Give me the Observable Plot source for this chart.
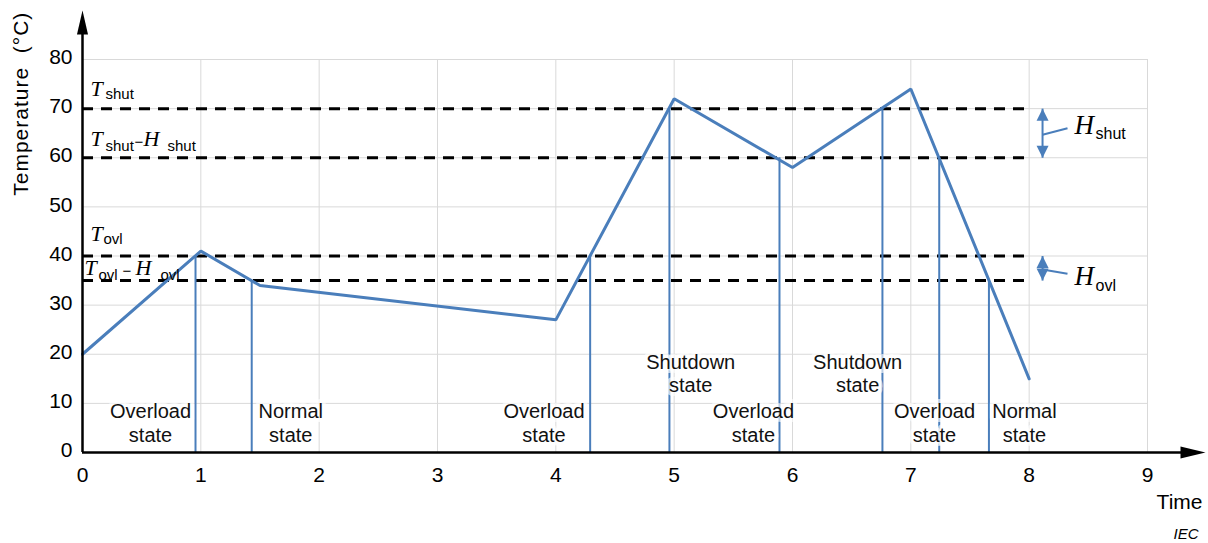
<!DOCTYPE html>
<html><head><meta charset="utf-8">
<script src="https://cdn.jsdelivr.net/npm/d3@7"></script>
<script src="https://cdn.jsdelivr.net/npm/@observablehq/plot@0.6"></script>
<style>body{margin:0;background:#fff}</style>
</head><body><div id="chart"></div>
<script>
// ---- data ----
const times = [0, 1, 1.5, 4, 5, 6, 7, 8];
const temps = [20, 41, 34, 27, 72, 58, 74, 15];
const thresholds = [70, 60, 40, 35];
const switchTimes = [0.955, 1.43, 4.29, 4.96, 5.89, 6.76, 7.24, 7.66];
const switchTemps = [40, 35, 40, 70, 60, 70, 60, 35];
const stateNames = ["Overload\nstate", "Normal\nstate", "Overload\nstate", "Shutdown\nstate",
                    "Overload\nstate", "Shutdown\nstate", "Overload\nstate", "Normal\nstate"];
const stateTimes = [0.575, 1.76, 3.9, 5.14, 5.67, 6.55, 7.2, 7.96];
const stateTemps = [6.1, 6.1, 6.1, 16.2, 6.1, 16.2, 6.1, 6.1];
const xTicks = [0, 1, 2, 3, 4, 5, 6, 7, 8, 9];
const yTicks = [0, 10, 20, 30, 40, 50, 60, 70, 80];
const hystX = 8.113;
const hystTop = [70, 40];
const hystBottom = [60, 35];
const hystLinkX2 = 8.324;
const hystLinkY1 = [64.7, 37.25];
const hystLinkY2 = [66.0, 36.4];
const dashEnd = 8.0;
const xAxisEnd = 9.49;
const yAxisEnd = 90;

// ---- helpers ----
const SANS = "Liberation Sans, Arial, sans-serif";
const SERIF = "Liberation Serif, 'Times New Roman', serif";
const BLUE = "#4a7ebb";
function head(lf, wf) {
  return {draw(ctx, size) {
    const r = Math.sqrt(size / Math.PI);
    ctx.moveTo(0, 0);
    ctx.lineTo(-r * wf, r * lf);
    ctx.lineTo(r * wf, r * lf);
    ctx.closePath();
  }};
}
function piece(str, x, y, dx, dy, opts) {
  return Plot.text([{s: str, x, y}], {x: "x", y: "y", text: "s", dx, dy,
    textAnchor: "start", lineAnchor: "bottom", fill: "black", ...opts});
}
const serifT = {fontFamily: SERIF, fontStyle: "italic", fontSize: 22};
const serifH = {fontFamily: SERIF, fontStyle: "italic", fontSize: 27};
const sub = {fontFamily: SANS, fontSize: 15};
const subH = {fontFamily: SANS, fontSize: 16};

const curve = times.map((t, i) => ({t, v: temps[i]}));
const switches = switchTimes.map((t, i) => ({t, v: switchTemps[i]}));
const states = stateNames.map((s, i) => ({s, t: stateTimes[i], v: stateTemps[i]}));
const hyst = hystTop.map((top, i) => ({top, bottom: hystBottom[i], y1: hystLinkY1[i], y2: hystLinkY2[i]}));

const chart = Plot.plot({
  width: 1208, height: 543,
  marginLeft: 82, marginRight: 61, marginTop: 59, marginBottom: 91,
  x: {domain: [0, 9]},
  y: {domain: [0, 80]},
  style: {fontFamily: SANS, fontSize: "21px", background: "white", overflow: "visible"},
  marks: [
    // grid
    Plot.ruleX(xTicks.slice(1), {y1: 0, y2: 80, stroke: "#d9d9d9", strokeWidth: 1}),
    Plot.ruleY(yTicks.slice(1), {x1: 0, x2: 9, stroke: "#d9d9d9", strokeWidth: 1}),
    // thresholds
    Plot.ruleY(thresholds, {x1: 0, x2: dashEnd, stroke: "black", strokeWidth: 3, strokeDasharray: "11,8"}),
    // switching verticals
    Plot.ruleX(switches, {x: "t", y1: 0, y2: "v", stroke: BLUE, strokeWidth: 2}),
    // temperature curve
    Plot.line(curve, {x: "t", y: "v", stroke: BLUE, strokeWidth: 3, strokeLinejoin: "miter"}),
    // state labels
    Plot.text(states, {x: "t", y: "v", text: "s", fontSize: 20, lineHeight: 1.17, lineAnchor: "middle",
      fill: "#111", stroke: "white", strokeWidth: 8, strokeOpacity: 0.65}),
    // threshold labels
    piece("T", 0, thresholds[0], 8, -13, serifT),
    piece("shut", 0, thresholds[0], 23, -10, sub),
    piece("T", 0, thresholds[1], 8, -12, serifT),
    piece("shut", 0, thresholds[1], 23, -7, sub),
    piece("−", 0, thresholds[1], 52, -11, sub),
    piece("H", 0, thresholds[1], 61, -12, serifT),
    piece("shut", 0, thresholds[1], 85, -7, sub),
    piece("T", 0, thresholds[2], 8, -15, serifT),
    piece("ovl", 0, thresholds[2], 21, -12, sub),
    piece("T", 0, thresholds[3], 2, -6, serifT),
    piece("ovl", 0, thresholds[3], 16, -1, sub),
    piece("−", 0, thresholds[3], 40, -5, sub),
    piece("H", 0, thresholds[3], 53, -6, serifT),
    piece("ovl", 0, thresholds[3], 78, -1, sub),
    // hysteresis arrows
    Plot.link(hyst, {x1: hystX, x2: hystX, y1: "top", y2: "bottom", stroke: BLUE, strokeWidth: 2}),
    Plot.dot(hyst, {x: hystX, y: "top", symbol: head(2, 1), r: 6, fill: BLUE, stroke: "none"}),
    Plot.dot(hyst, {x: hystX, y: "bottom", symbol: head(2, 1), r: 6, rotate: 180, fill: BLUE, stroke: "none"}),
    Plot.link(hyst, {x1: hystX, x2: hystLinkX2, y1: "y1", y2: "y2", stroke: BLUE, strokeWidth: 2}),
    piece("H", hystX, hystTop[0], 32, 25, serifH),
    piece("shut", hystX, hystTop[0], 53, 30, subH),
    piece("H", hystX, hystTop[1], 32, 29, serifH),
    piece("ovl", hystX, hystTop[1], 53, 35, subH),
    // axes
    Plot.ruleY([0], {x1: 0, x2: xAxisEnd - 0.1, stroke: "black", strokeWidth: 2.5}),
    Plot.ruleX([0], {y1: 0, y2: yAxisEnd - 2, stroke: "black", strokeWidth: 2.5}),
    Plot.dot([0], {x: xAxisEnd, y: 0, symbol: head(2, 0.48), r: 12.5, rotate: 90, fill: "black", stroke: "none"}),
    Plot.dot([0], {x: 0, y: yAxisEnd, symbol: head(2, 0.46), r: 12, fill: "black", stroke: "none"}),
    Plot.axisX({ticks: xTicks, tickSize: 0, tickPadding: 15, label: null, fontSize: 21}),
    Plot.axisY({ticks: yTicks, tickSize: 0, tickPadding: 10, label: null, fontSize: 21, dy: -2}),
    Plot.text(["Temperature\u00a0 (°C)"], {x: 0, y: 71, text: d => d, rotate: -90, dx: -61,
      fontSize: 21, lineAnchor: "middle", textAnchor: "middle", fill: "black"}),
    Plot.text(["Time"], {x: 9, y: 0, text: d => d, dx: 55, dy: 56, textAnchor: "end",
      lineAnchor: "bottom", fontSize: 21, fill: "black"}),
    Plot.text(["IEC"], {x: 9, y: 0, text: d => d, dx: 51, dy: 86, textAnchor: "end",
      lineAnchor: "bottom", fontSize: 15, fontStyle: "italic", fill: "black"})
  ]
});
d3.select(chart).selectAll("text")
  .filter(function() { return this.textContent.startsWith("Temperature"); })
  .attr("letter-spacing", "1px");
document.getElementById("chart").appendChild(chart);
</script>
</body></html>
